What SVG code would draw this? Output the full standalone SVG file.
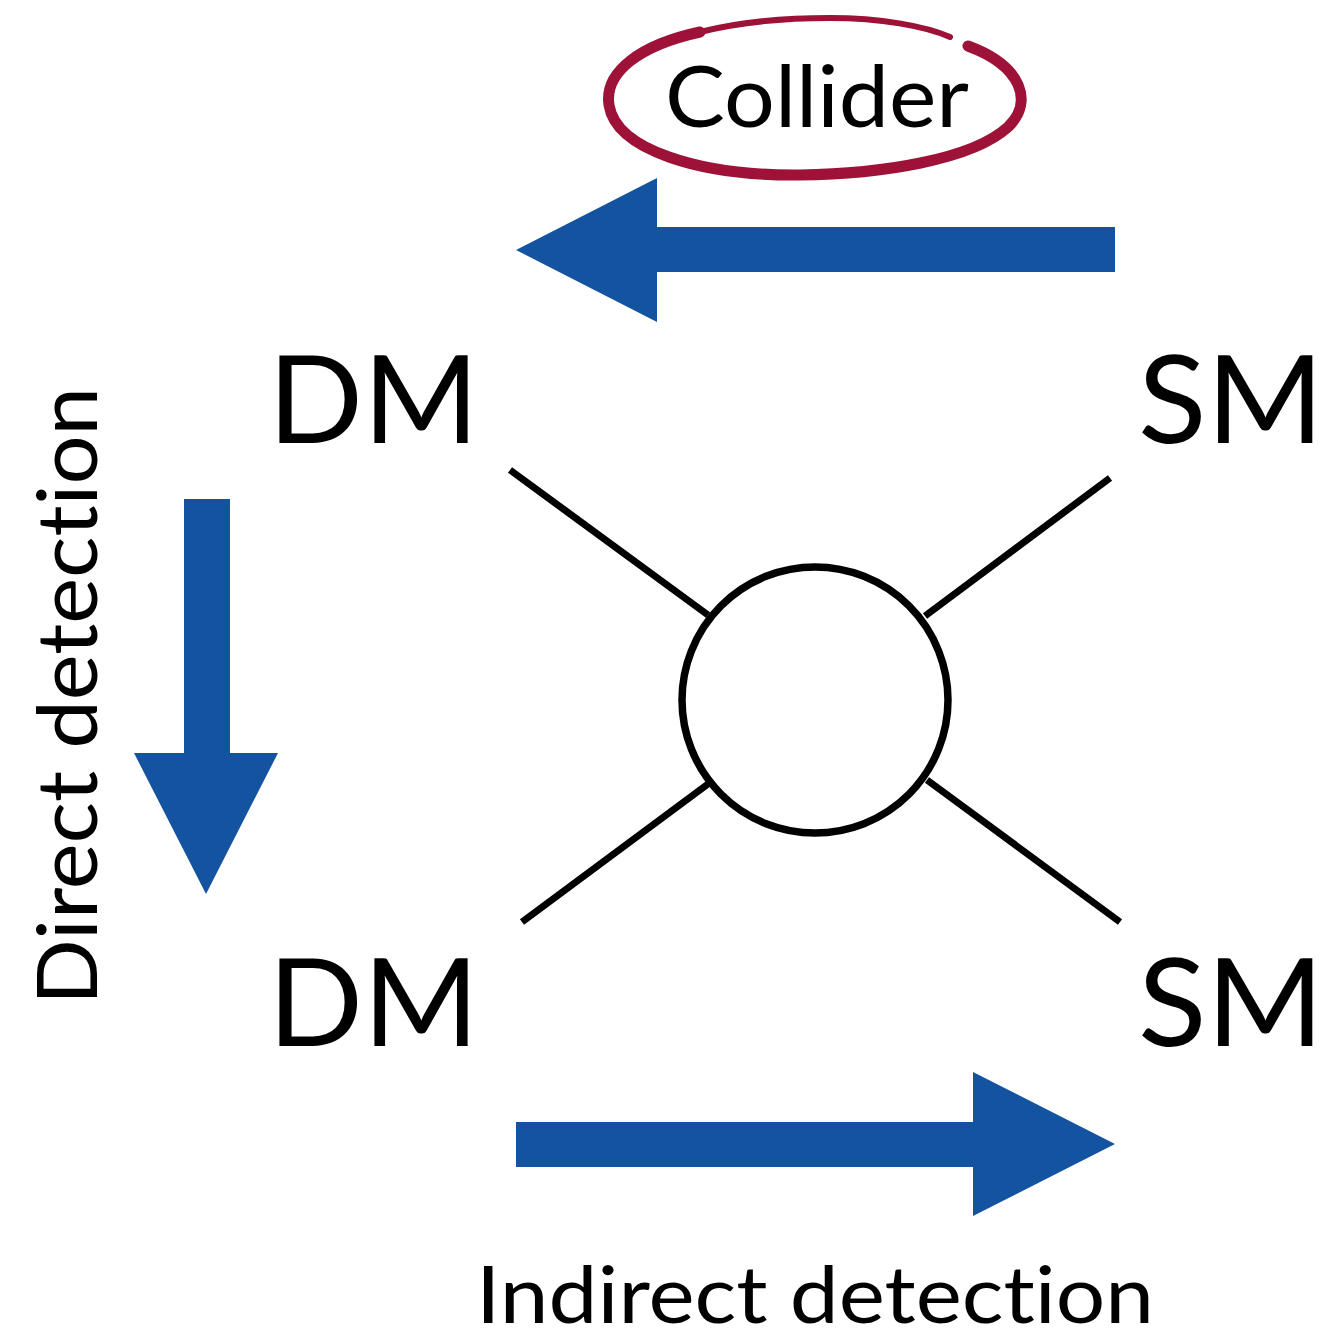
<svg xmlns="http://www.w3.org/2000/svg" width="1327" height="1336" viewBox="0 0 1327 1336">
<style>
.t{font-family:Lato,"Open Sans","Liberation Sans",sans-serif;fill:#000;font-variant-ligatures:none;font-feature-settings:"liga" 0}
.big{font-size:122px}
.arr{fill:#1353a0}
.ln{stroke:#000;stroke-width:7;fill:none}
.brush{fill:none;stroke:#9e1237;stroke-linecap:round}
</style>
<rect width="1327" height="1336" fill="#fff"/>
<g id="connectors">
<line class="ln" x1="510" y1="470" x2="708" y2="615"/>
<line class="ln" x1="1110" y1="478" x2="925" y2="616"/>
<line class="ln" x1="522" y1="922" x2="708" y2="784"/>
<line class="ln" x1="1120" y1="922" x2="927" y2="780"/>
<polygon id="arrow-collider" class="arr" points="1115,227 657,227 657,178 516,250 657,322 657,272 1115,272"/>
<polygon id="arrow-direct" class="arr" points="184,499 230,499 230,753 278,753 206,894 134,753 184,753"/>
<polygon id="arrow-indirect" class="arr" points="516,1122 973,1122 973,1072 1115,1144 973,1216 973,1167 516,1167"/>
</g>
<g id="vertex">
<circle cx="815" cy="700" r="133" fill="#fff" stroke="#000" stroke-width="7.5"/>
</g>
<g id="dm-top"><text class="t big" x="268" y="443" textLength="211" lengthAdjust="spacingAndGlyphs">DM</text></g>
<g id="sm-top"><text class="t big" x="1138" y="443" textLength="186" lengthAdjust="spacingAndGlyphs">SM</text></g>
<g id="dm-bottom"><text class="t big" x="268" y="1046" textLength="211" lengthAdjust="spacingAndGlyphs">DM</text></g>
<g id="sm-bottom"><text class="t big" x="1138" y="1046" textLength="186" lengthAdjust="spacingAndGlyphs">SM</text></g>
<g id="collider">
<path class="brush" stroke-width="11" d="M968,46 C1022,66 1034,102 1008,127 C972,160 880,174 800,175 C700,176 616,150 609,105 C604,72 640,45 700,32"/>
<path class="brush" stroke-width="6" d="M700,32 C740,22 790,18 830,18 C880,18 925,26 950,37"/>
<text class="t" x="665" y="127" font-size="86" textLength="304" lengthAdjust="spacingAndGlyphs">Collider</text>
</g>
<g id="direct-label"><text class="t" font-size="84" transform="translate(97,1005) rotate(-90)" textLength="618" lengthAdjust="spacingAndGlyphs">Direct detection</text></g>
<g id="indirect-label"><text class="t" x="476" y="1323" font-size="80" textLength="678" lengthAdjust="spacingAndGlyphs">Indirect detection</text></g>
</svg>
